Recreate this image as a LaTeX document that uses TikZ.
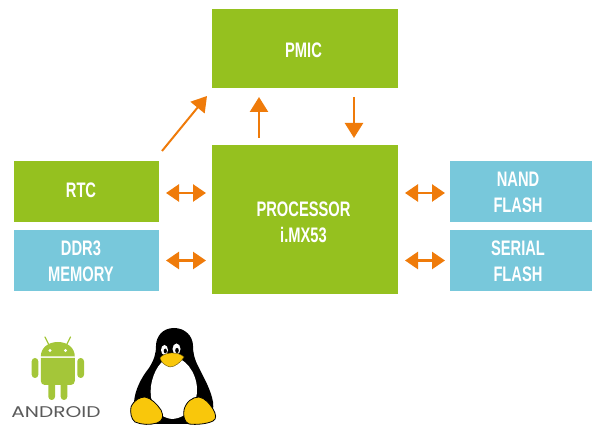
\documentclass[tikz,border=0pt]{standalone}
\usepackage{fontspec}
\newfontfamily\lblfont[FakeStretch=0.7]{Liberation Sans}
\newfontfamily\andfont[FakeStretch=1.3]{Poppins}
\usetikzlibrary{arrows.meta,calc}
\definecolor{grn}{HTML}{95C11F}
\definecolor{blu}{HTML}{78C8DB}
\definecolor{org}{HTML}{EF7B0A}
\definecolor{andg}{HTML}{A4C639}
\definecolor{tuxy}{HTML}{F9C70B}
\definecolor{andtext}{HTML}{5A5A5A}
\begin{document}
\begin{tikzpicture}[x=1pt,y=-1pt,
  box/.style={draw=none,inner sep=0pt,outer sep=0pt,anchor=north west},
  lbl/.style={text=white,font=\lblfont\bfseries\fontsize{21}{26}\selectfont,align=center,inner sep=0pt},
  arr/.style={draw=org,line width=2.4pt,-{Triangle[length=15pt,width=18pt]}},
  dbl/.style={draw=org,line width=2.6pt,{Triangle[length=13pt,width=17pt]}-{Triangle[length=13pt,width=17pt]}}]
\useasboundingbox (0,0) rectangle (592,427);
% boxes
\node[box,fill=grn,minimum width=186pt,minimum height=79pt] (pmic) at (212,9) {};
\node[box,fill=grn,minimum width=186pt,minimum height=149pt] (proc) at (212,145) {};
\node[box,fill=grn,minimum width=145pt,minimum height=61pt] (rtc) at (14,161) {};
\node[box,fill=blu,minimum width=145pt,minimum height=61pt] (ddr) at (14,230) {};
\node[box,fill=blu,minimum width=142pt,minimum height=61pt] (nand) at (450,161) {};
\node[box,fill=blu,minimum width=142pt,minimum height=61pt] (ser) at (450,230) {};
% labels
\node[lbl] (pmict) at (303.5,50) {PMIC};
\node[lbl] (proct) at (303.5,222.5) {PROCESSOR\\i.MX53};
\node[lbl] (rtct) at (81,190.5) {RTC};
\node[lbl] (ddrt) at (81,261) {DDR3\\MEMORY};
\node[lbl] (nandt) at (518,192) {NAND\\FLASH};
\node[lbl] (sert) at (518,261) {SERIAL\\FLASH};
% connectors
\draw[dbl] ($(rtc.east)+(7,1.5)$) -- ($(rtc.east -| proc.west)+(-6,1.5)$);
\draw[dbl] ($(ddr.east)+(7,0)$) -- ($(ddr.east -| proc.west)+(-6,0)$);
\draw[dbl] ($(proc.east |- nand.west)+(7,1.5)$) -- ($(nand.west)+(-5,1.5)$);
\draw[dbl] ($(proc.east |- ser.west)+(7,0)$) -- ($(ser.west)+(-5,0)$);
\draw[arr] ($(proc.north west)+(47,-7)$) -- ($(pmic.south west)+(47,9)$);
\draw[arr] ($(pmic.south west)+(142,9)$) -- ($(proc.north west)+(142,-7)$);
\coordinate (d1) at (162,151);
\coordinate (d2) at (207,96);
\draw[arr,line width=2pt] (d1) -- (d2);
% Android robot
\draw[andg,line width=1.3pt,line cap=round] (45,337) -- (49,345) (70.5,337) -- (66.5,345);
\fill[andg] (40.8,356.5) .. controls (40.8,348) and (48,342) .. (57.8,342) .. controls (67.6,342) and (74.8,348) .. (74.8,356.5) -- cycle;
\fill[white] (50,350.5) circle[radius=1.6pt] (65.5,350.5) circle[radius=1.6pt];
\fill[andg] (40.8,358) -- (74.8,358) [rounded corners=4pt] -- (74.8,385) -- (40.8,385) [sharp corners] -- cycle;
\fill[andg,rounded corners=3.3pt] (31.7,358) rectangle (38.3,378);
\fill[andg,rounded corners=3.3pt] (77.3,358) rectangle (84,378);
\fill[andg,rounded corners=3.3pt] (48.3,380) rectangle (55,400);
\fill[andg,rounded corners=3.3pt] (60.7,380) rectangle (67.3,400);
\node[text=andtext,font=\andfont\fontsize{15.5}{15.5}\selectfont,inner sep=0pt] (andt) at (56,412.5) {ANDROID};
% Tux
\fill[black] (174,328) .. controls (163,328) and (156,336) .. (156,346) .. controls (156,354) and (154,360) .. (149,368) .. controls (141,378) and (135,390) .. (134,402) .. controls (133,414) and (143,424) .. (158,424) -- (192,424) .. controls (207,424) and (215,414) .. (213,402) .. controls (211,390) and (204,378) .. (198,366) .. controls (194,358) and (193,352) .. (193,346) .. controls (193,336) and (185,328) .. (174,328) -- cycle;
\fill[white] (172,357) .. controls (161,358) and (153,372) .. (151,386) .. controls (149,401) and (155,417) .. (172,419) .. controls (189,418) and (198,402) .. (197,388) .. controls (196,372) and (185,357) .. (172,357) -- cycle;
\filldraw[fill=tuxy,draw=black,line width=0.8pt] (131,407) .. controls (134,400) and (140,397) .. (145,397) .. controls (151,398) and (157,404) .. (161,410) .. controls (164,416) and (163,421) .. (157,423) .. controls (150,425) and (142,425) .. (135,422) .. controls (131,419) and (130,412) .. (131,407) -- cycle;
\filldraw[fill=tuxy,draw=black,line width=0.8pt] (184,410) .. controls (186,402) and (192,397) .. (199,397) .. controls (205,398) and (210,404) .. (213,409) .. controls (216,414) and (217,419) .. (213,421) .. controls (207,424) and (196,425) .. (189,424) .. controls (184,422) and (183,415) .. (184,410) -- cycle;
\fill[white] (164.5,350) ellipse[x radius=3.5pt,y radius=5pt];
\fill[white] (176.5,349) ellipse[x radius=4pt,y radius=5.5pt];
\fill[black] (165.3,351) ellipse[x radius=1.6pt,y radius=2.4pt];
\fill[black] (177,350.5) ellipse[x radius=1.8pt,y radius=2.6pt];
\filldraw[fill=tuxy,draw=black!60!tuxy,line width=0.4pt] (160,358) .. controls (164,352) and (178,351) .. (184,357) .. controls (181,362) and (175,367) .. (170,367) .. controls (165,366) and (161,362) .. (160,358) -- cycle;
\end{tikzpicture}
\end{document}
